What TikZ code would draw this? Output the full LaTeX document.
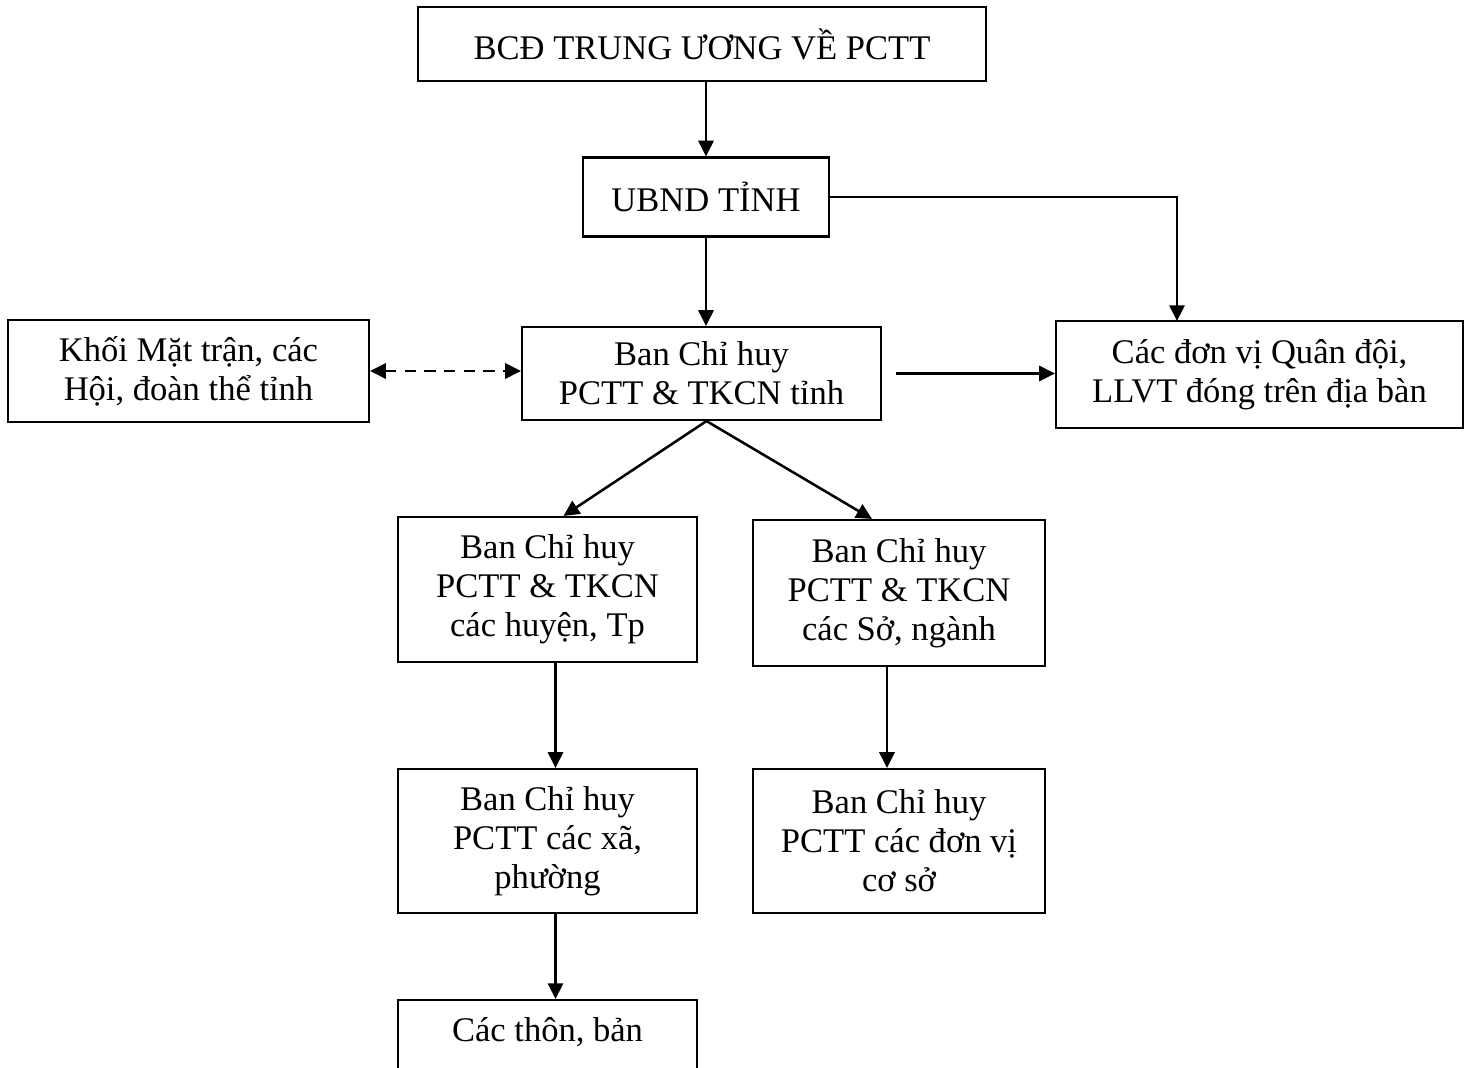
\documentclass[tikz,border=0pt]{standalone}
\usepackage{fontspec}
\setmainfont{Liberation Serif}
\usetikzlibrary{arrows.meta, calc, positioning}
\newdimen\pxu \pxu=0.356pt
\tikzstyle{box} = [rectangle, draw=black, line width=0.75pt, align=center,
inner sep=0pt, font=\fontsize{12.3}{13.9}\selectfont]
\tikzstyle{arrow} = [line width=0.9pt, ->, >={Triangle[length=5.6pt, width=5.4pt]}]
\begin{document}
\begin{tikzpicture}[x=0.356pt, y=-0.356pt]
      \useasboundingbox (0,0) rectangle (1472,1068);

      \node (bcd) [box, minimum width=568\pxu, minimum height=74\pxu] at (702,44) {BCĐ TRUNG ƯƠNG VỀ PCTT};
      \node (ubnd) [box, minimum width=246\pxu, minimum height=79\pxu] at (706,197) {UBND TỈNH};
      \node (bch) [box, minimum width=359\pxu, minimum height=93\pxu] at (701.5,373.5) {Ban Chỉ huy \\ PCTT \& TKCN tỉnh};
      \node (khoi) [box, minimum width=361\pxu, minimum height=102\pxu] at (188.5,371) {Khối Mặt trận, các \\ Hội, đoàn thể tỉnh};
      \node (donvi) [box, minimum width=407\pxu, minimum height=107\pxu] at (1259.5,374.5) {Các đơn vị Quân đội, \\ LLVT đóng trên địa bàn};

      \node (huyen) [box, minimum width=299\pxu, minimum height=145\pxu] at (547.5,589.5) {Ban Chỉ huy \\ PCTT \& TKCN \\ các huyện, Tp};
      \node (so) [box, minimum width=292\pxu, minimum height=146\pxu] at (899,593) {Ban Chỉ huy \\ PCTT \& TKCN \\ các Sở, ngành};
      \node (xa) [box, minimum width=299\pxu, minimum height=144\pxu] at (547.5,841) {Ban Chỉ huy \\ PCTT các xã, \\ phường};
      \node (coso) [box, minimum width=292\pxu, minimum height=144\pxu] at (899,841) {Ban Chỉ huy \\ PCTT các đơn vị \\ cơ sở};
      \node (thon) [box, anchor=north, minimum width=299\pxu, text height=41\pxu, text depth=110\pxu] at (547.5,999) {Các thôn, bản};

      \coordinate (dvin) at (1177,321);

      \draw [arrow] (ubnd.north |- bcd.south) -- (ubnd.north);
      \draw [arrow] (ubnd.south) -- (ubnd.south |- bch.north);
      \draw [arrow] (ubnd.east) -| (dvin);
      \draw [arrow, shorten <=5pt] (bch.east) -- (bch.east -| donvi.west);
      \draw [arrow, <->, dashed, dash pattern=on 4pt off 3pt] (khoi.east) -- (khoi.east -| bch.west);
      \draw [arrow] ($(bch.south)+(5,0)$) -- ($(huyen.north)+(16,0)$);
      \draw [arrow] ($(bch.south)+(5,0)$) -- ($(so.north)+(-27,0)$);
      \draw [arrow] ($(huyen.south)+(8,0)$) -- ($(xa.north)+(8,0)$);
      \draw [arrow] ($(so.south)+(-12,0)$) -- ($(coso.north)+(-12,0)$);
      \draw [arrow] ($(xa.south)+(8,0)$) -- ($(thon.north)+(8,0)$);
    \end{tikzpicture}
\end{document}
